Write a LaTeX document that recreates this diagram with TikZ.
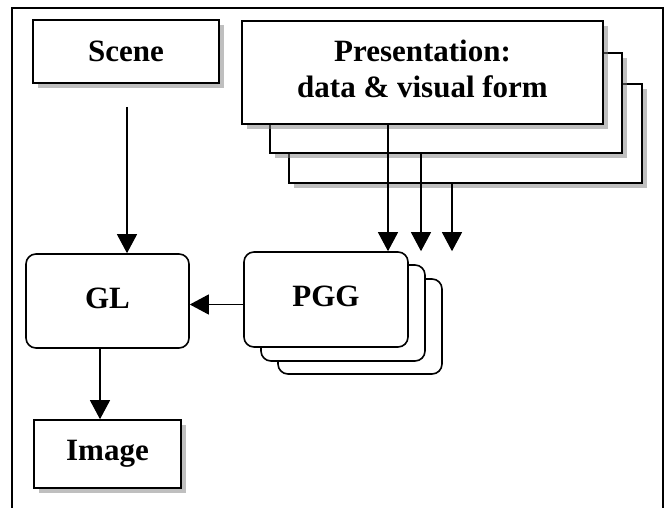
\documentclass[tikz,border=0pt]{standalone}
\usepackage{fontspec}
\setmainfont{Liberation Serif}
\usetikzlibrary{arrows.meta, shadows}

\begin{document}
\begin{tikzpicture}[x=1pt, y=-1pt,
    box/.style={draw, line width=1.6pt, fill=white, inner sep=0pt,
        drop shadow={shadow xshift=5pt, shadow yshift=-5pt}},
    roundbox/.style={draw, line width=1.6pt, fill=white, inner sep=0pt, rounded corners=10pt},
    lbl/.style={font=\bfseries\fontsize{31}{36}\selectfont, align=center},
    arr/.style={line width=1.2pt, -{Triangle[width=20pt,length=19pt]}}]
    \useasboundingbox (0,0) rectangle (667,508);
    % frame
    \draw[line width=1.2pt] (12,508) -- (12,8) -- (663,8) -- (663,508);

    % top row
    \node[box, lbl, minimum width=186pt, minimum height=63pt](scene) at (126,51.5) {Scene};
    \node[box, minimum width=353pt, minimum height=99pt](pres3) at (465.5,133.5) {};
    \node[box, minimum width=352pt, minimum height=100pt](pres2) at (446,103) {};
    \node[box, minimum width=361pt, minimum height=103pt](pres) at (422.5,72.5) {};
    \node[lbl](prestext) at (422.5,68.5) {Presentation:\\data \& visual form};

    % middle row
    \node[roundbox, minimum width=164pt, minimum height=95pt](pgg3) at (360,326.5) {};
    \node[roundbox, minimum width=164pt, minimum height=96pt](pgg2) at (343,313) {};
    \node[roundbox, lbl, minimum width=164pt, minimum height=95pt](pgg) at (326,299.5) {\raisebox{7pt}{PGG}};
    \node[roundbox, lbl, minimum width=163pt, minimum height=94pt](gl) at (107.5,301) {\raisebox{6pt}{GL}};

    % bottom
    \node[box, lbl, minimum width=147pt, minimum height=68pt](image) at (107.5,454) {Image};

    % connectors
    \coordinate (sceneout) at (127,107);
    \draw[arr] (sceneout) -- (sceneout |- gl.north);
    \foreach \x/\src in {388/pres, 421/pres2, 452/pres3}{
        \coordinate (t) at (\x,0);
        \draw[arr] (t |- \src.south) -- (t |- pgg.north);
    }
    \draw[arr] ([yshift=-5pt]pgg.west) -- ([yshift=-5pt]pgg.west -| gl.east);
    \coordinate (glout) at (100,0);
    \draw[arr] (glout |- gl.south) -- (glout |- image.north);
\end{tikzpicture}
\end{document}
